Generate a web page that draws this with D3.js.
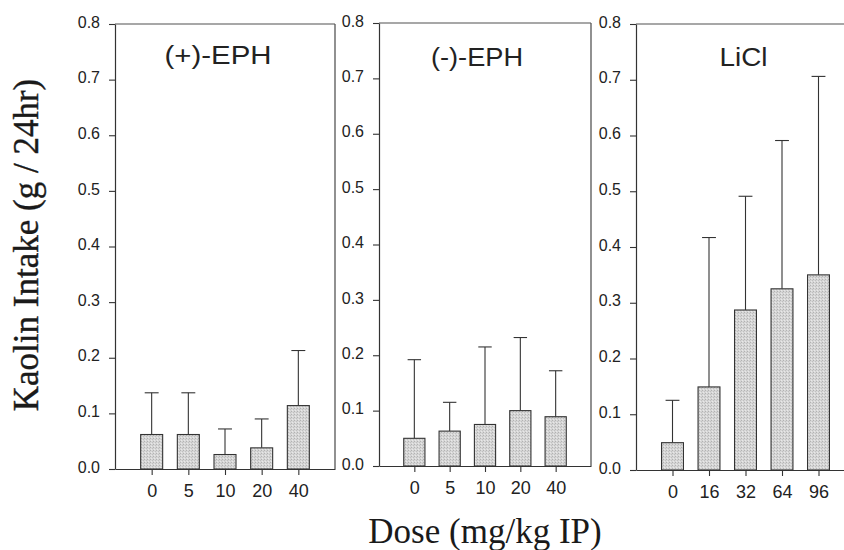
<!DOCTYPE html>
<html>
<head>
<meta charset="utf-8">
<script src="https://cdn.jsdelivr.net/npm/d3@7"></script>
<style>
  html, body { margin: 0; padding: 0; background: #fff; }
  svg { display: block; }
</style>
</head>
<body>
<svg id="chart" width="844" height="550"></svg>
<script>
// ---- data ----
const panelTitles = ["(+)-EPH", "(-)-EPH", "LiCl"];
const dosesPlusEPH = ["0", "5", "10", "20", "40"];
const dosesMinusEPH = ["0", "5", "10", "20", "40"];
const dosesLiCl = ["0", "16", "32", "64", "96"];
const meanPlusEPH = [0.062, 0.062, 0.026, 0.038, 0.114];
const errPlusEPH = [0.075, 0.075, 0.046, 0.052, 0.099];
const meanMinusEPH = [0.050, 0.063, 0.075, 0.100, 0.089];
const errMinusEPH = [0.142, 0.052, 0.140, 0.132, 0.083];
const meanLiCl = [0.049, 0.149, 0.287, 0.325, 0.350];
const errLiCl = [0.076, 0.268, 0.204, 0.266, 0.356];
const yTicks = [0.0, 0.1, 0.2, 0.3, 0.4, 0.5, 0.6, 0.7, 0.8];
const yLabel = "Kaolin Intake (g / 24hr)";
const xLabel = "Dose (mg/kg IP)";

const panels = [
  { title: panelTitles[0], doses: dosesPlusEPH, mean: meanPlusEPH, err: errPlusEPH,
    box: { left: 115, right: 335, top: 24, bottom: 469 }, titleW: 107, titleY: 64, titleDx: -7, rightBorder: true },
  { title: panelTitles[1], doses: dosesMinusEPH, mean: meanMinusEPH, err: errMinusEPH,
    box: { left: 379, right: 591, top: 23, bottom: 466 }, titleW: 92, titleY: 66, titleDx: -8, rightBorder: true },
  { title: panelTitles[2], doses: dosesLiCl, mean: meanLiCl, err: errLiCl,
    box: { left: 636, right: 855, top: 24, bottom: 470 }, titleW: 48, titleY: 66, titleDx: -2, rightBorder: false }
];

const svg = d3.select("#chart");
const sans = "'Liberation Sans', Arial, sans-serif";
const serif = "'Liberation Serif', 'Times New Roman', serif";

// stipple pattern for bars
const defs = svg.append("defs");
const pat = defs.append("pattern").attr("id", "stipple")
  .attr("patternUnits", "userSpaceOnUse").attr("width", 3).attr("height", 3);
pat.append("rect").attr("width", 3).attr("height", 3).attr("fill", "#d6d6d6");
pat.append("rect").attr("x", 0).attr("y", 0).attr("width", 1).attr("height", 1).attr("fill", "#b2b2b2");
pat.append("rect").attr("x", 2).attr("y", 1).attr("width", 1).attr("height", 1).attr("fill", "#c0c0c0");
pat.append("rect").attr("x", 1).attr("y", 2).attr("width", 1).attr("height", 1).attr("fill", "#e8e8e8");

panels.forEach(p => {
  const b = p.box;
  const x = d3.scalePoint().domain(p.doses).range([b.left, b.right]).padding(1);
  const y = d3.scaleLinear().domain([0, 0.8]).range([b.bottom, b.top]);
  const bw = x.step() * 0.6;
  const capW = x.step() * 0.38;
  const g = svg.append("g");

  // top border & right border
  g.append("line").attr("x1", b.left).attr("x2", b.right).attr("y1", y(0.8)).attr("y2", y(0.8))
    .attr("stroke", "#8a8a8a").attr("stroke-width", 1.3);
  if (p.rightBorder) {
    g.append("line").attr("x1", b.right).attr("x2", b.right).attr("y1", y(0.8)).attr("y2", y(0))
      .attr("stroke", "#555").attr("stroke-width", 1.3);
  }

  const data = p.doses.map((d, i) => ({ dose: d, mean: p.mean[i], err: p.err[i] }));

  // error bars (upper only)
  g.selectAll(".stem").data(data).enter().append("line")
    .attr("x1", d => x(d.dose)).attr("x2", d => x(d.dose))
    .attr("y1", d => y(d.mean)).attr("y2", d => y(d.mean + d.err))
    .attr("stroke", "#333").attr("stroke-width", 1.1);
  g.selectAll(".cap").data(data).enter().append("line")
    .attr("x1", d => x(d.dose) - capW / 2).attr("x2", d => x(d.dose) + capW / 2)
    .attr("y1", d => y(d.mean + d.err)).attr("y2", d => y(d.mean + d.err))
    .attr("stroke", "#333").attr("stroke-width", 1.1);

  // bars
  g.selectAll(".bar").data(data).enter().append("rect")
    .attr("x", d => x(d.dose) - bw / 2).attr("width", bw)
    .attr("y", d => y(d.mean)).attr("height", d => y(0) - y(d.mean))
    .attr("fill", "url(#stipple)").attr("stroke", "#333").attr("stroke-width", 1.1);

  // y axis
  const ya = g.append("g").attr("transform", `translate(${b.left},0)`)
    .call(d3.axisLeft(y).tickValues(yTicks).tickFormat(d3.format(".1f")).tickSize(6).tickSizeOuter(0).tickPadding(9));
  ya.select(".domain").attr("stroke", "#333").attr("stroke-width", 1.2);
  ya.selectAll(".tick line").attr("stroke", "#333").attr("stroke-width", 1.1);
  ya.selectAll(".tick text").attr("font-family", sans).attr("font-size", 16).attr("fill", "#222").attr("dy", "0.2em");

  // x axis
  const xa = g.append("g").attr("transform", `translate(0,${b.bottom})`)
    .call(d3.axisBottom(x).tickSize(6).tickSizeOuter(0).tickPadding(9));
  xa.select(".domain").attr("stroke", "#333").attr("stroke-width", 1.2);
  xa.selectAll(".tick line").attr("stroke", "#333").attr("stroke-width", 1.1);
  xa.selectAll(".tick text").attr("font-family", sans).attr("font-size", 18).attr("fill", "#222");

  // title
  g.append("text").attr("x", (b.left + Math.min(b.right, b.left + 6 * x.step())) / 2 + p.titleDx).attr("y", p.titleY)
    .attr("text-anchor", "middle").attr("font-family", sans).attr("font-size", 25).attr("fill", "#222")
    .attr("textLength", p.titleW).attr("lengthAdjust", "spacingAndGlyphs")
    .text(p.title);
});

// axis titles
svg.append("text").attr("transform", "translate(38,245) rotate(-90)")
  .attr("text-anchor", "middle").attr("font-family", serif).attr("font-size", 35).attr("fill", "#1a1a1a")
  .attr("stroke", "#1a1a1a").attr("stroke-width", 0.4)
  .text(yLabel);
svg.append("text").attr("x", 485).attr("y", 543)
  .attr("text-anchor", "middle").attr("font-family", serif).attr("font-size", 35).attr("fill", "#1a1a1a")
  .text(xLabel);
</script>
</body>
</html>
